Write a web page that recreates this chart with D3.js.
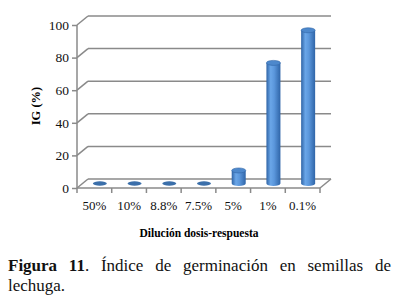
<!DOCTYPE html>
<html>
<head>
<meta charset="utf-8">
<script src="https://cdn.jsdelivr.net/npm/d3@7"></script>
<style>
body{margin:0;background:#fff;}
svg text{font-family:"Liberation Serif","Times New Roman",serif;}
</style>
</head>
<body>
<div class="mainView"></div>
<script>
let categories = ["50%","10%","8.8%","7.5%","5%","1%","0.1%"];
let values = [0,0,0,0,8,74,94];
let yTicks = [0,20,40,60,80,100];

function chartConfig(){
    let width = 398, height = 302;
    let svg = d3.select(".mainView").append("svg")
        .attr("width", width).attr("height", height);
    let left = 77, right = 320, bottom = 188, top = 25;
    let depth = {dx: 11, dy: -9};
    return {width, height, svg, left, right, bottom, top, depth};
}

function chartScales(config){
    let xScale = d3.scaleBand().domain(categories).range([config.left, config.right]);
    let yScale = d3.scaleLinear().domain([0,100]).range([config.bottom, config.top]);
    return {xScale, yScale};
}

function drawWalls(config, scales){
    let {svg, left, right, bottom, depth} = config;
    let {xScale, yScale} = scales;
    let grey = "#8a8a8a";
    // gridlines on back wall + diagonal to front axis
    yTicks.forEach(t => {
        let y = yScale(t);
        svg.append("line")
            .attr("x1", left + depth.dx).attr("x2", right + depth.dx)
            .attr("y1", y + depth.dy).attr("y2", y + depth.dy)
            .style("stroke", grey).style("stroke-width", 1.5);
        svg.append("line")
            .attr("x1", left).attr("x2", left + depth.dx)
            .attr("y1", y).attr("y2", y + depth.dy)
            .style("stroke", grey).style("stroke-width", 1.5);
    });
    // floor front and right edge
    svg.append("line")
        .attr("x1", left).attr("x2", right)
        .attr("y1", bottom).attr("y2", bottom)
        .style("stroke", grey).style("stroke-width", 1.5);
    svg.append("line")
        .attr("x1", right).attr("x2", right + depth.dx)
        .attr("y1", bottom).attr("y2", bottom + depth.dy)
        .style("stroke", grey).style("stroke-width", 1.5);

    // y axis
    let axisY = d3.axisLeft(yScale).tickValues(yTicks).tickSize(5).tickPadding(3);
    let gy = svg.append("g").attr("transform", "translate(" + left + ",0)").call(axisY)
        .attr("font-family", null);
    gy.select(".domain").style("stroke", grey).style("stroke-width", 1.5)
        .attr("d", "M-0," + yScale(100) + "V" + yScale(0));
    gy.selectAll(".tick line").style("stroke", grey).style("stroke-width", 1.5);
    gy.selectAll(".tick text").style("font-size", "13.5px")
        .style("font-family", "'Liberation Serif', serif").style("fill", "#111");

    // x axis ticks at band edges
    let edges = categories.map(c => xScale(c)).concat([right]);
    edges.forEach(x => {
        svg.append("line")
            .attr("x1", x).attr("x2", x)
            .attr("y1", bottom).attr("y2", bottom + 5)
            .style("stroke", grey).style("stroke-width", 1.5);
    });
    categories.forEach(c => {
        svg.append("text")
            .attr("x", xScale(c) + xScale.bandwidth()/2)
            .attr("y", 210)
            .attr("text-anchor", "middle")
            .style("font-family", "'Liberation Serif', serif")
            .style("font-size", "13px")
            .style("fill", "#111")
            .text(c);
    });
}

function drawBars(config, scales){
    let {svg, depth} = config;
    let {xScale, yScale} = scales;
    let defs = svg.append("defs");
    let grad = defs.append("linearGradient").attr("id", "cyl")
        .attr("x1", "0%").attr("x2", "100%").attr("y1", "0%").attr("y2", "0%");
    [["0%","#2f64a6"],["30%","#6aa6e8"],["55%","#5b97dc"],["100%","#2f65a8"]].forEach(s => {
        grad.append("stop").attr("offset", s[0]).attr("stop-color", s[1]);
    });
    let rx = 7, ry = 2.5;
    categories.forEach((c, i) => {
        let cx = xScale(c) + xScale.bandwidth()/2 + depth.dx/2;
        let y0 = yScale(0) + depth.dy/2;
        let y1 = yScale(values[i]) + depth.dy/2;
        let g = svg.append("g");
        if(values[i] <= 0.5){
            g.append("ellipse")
                .attr("cx", cx).attr("cy", y0)
                .attr("rx", rx).attr("ry", ry - 0.3)
                .style("fill", "#3b6faa");
            return;
        }
        g.append("path")
            .attr("d", "M" + (cx - rx) + "," + y1 + "V" + y0 +
                "A" + rx + "," + ry + " 0 0 0 " + (cx + rx) + "," + y0 +
                "V" + y1 + "Z")
            .style("fill", "url(#cyl)");
        g.append("ellipse")
            .attr("cx", cx).attr("cy", y1)
            .attr("rx", rx).attr("ry", ry)
            .style("fill", "#4d88cc")
            .style("stroke", "#2f64a6").style("stroke-width", 0.6);
    });
}

function drawLabels(config){
    let {svg} = config;
    svg.append("text")
        .attr("transform", "translate(40,106) rotate(-90)")
        .attr("text-anchor", "middle")
        .style("font-size", "12.5px").style("font-weight", "bold")
        .text("IG (%)");
    svg.append("text")
        .attr("x", 199).attr("y", 237)
        .attr("text-anchor", "middle")
        .style("font-size", "11.5px").style("font-weight", "bold")
        .text("Dilución dosis-respuesta");

    let cap = svg.append("text").attr("x", 8).attr("y", 271)
        .style("font-size", "17px").style("fill", "#111");
    cap.append("tspan").style("font-weight", "bold").text("Figura 11");
    cap.append("tspan").text(". Índice de germinación en semillas de");
    let w = cap.node().getComputedTextLength();
    let gaps = 7;
    cap.style("word-spacing", ((391 - 8 - w) / gaps) + "px");

    svg.append("text").attr("x", 8).attr("y", 291)
        .style("font-size", "17px").style("fill", "#111")
        .text("lechuga.");
}

let config = chartConfig();
let scales = chartScales(config);
drawWalls(config, scales);
drawBars(config, scales);
drawLabels(config);
</script>
</body>
</html>
